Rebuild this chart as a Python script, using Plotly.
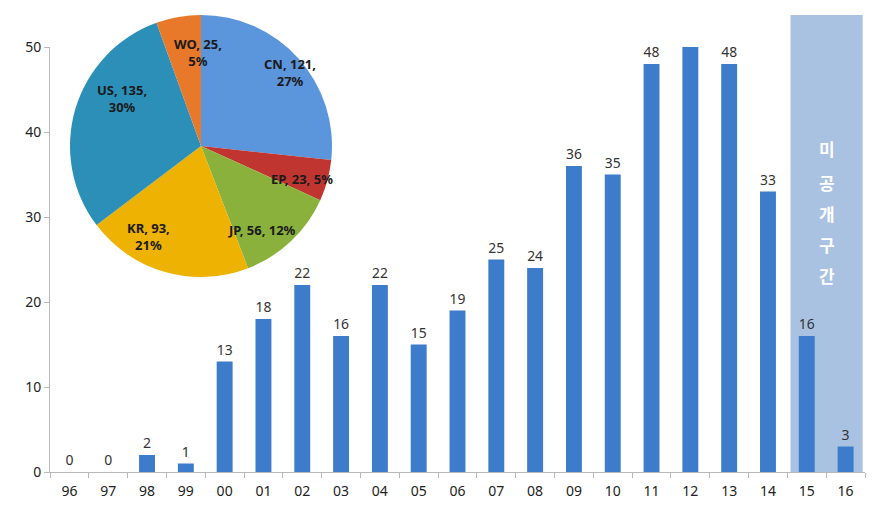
import plotly.graph_objects as go

years = ["96", "97", "98", "99", "00", "01", "02", "03", "04", "05", "06",
         "07", "08", "09", "10", "11", "12", "13", "14", "15", "16"]
counts = [0, 0, 2, 1, 13, 18, 22, 16, 22, 15, 19, 25, 24, 36, 35, 48, 50, 48, 33, 16, 3]
show_label = [True] * 16 + [False] + [True] * 4

pie_labels = ["CN", "EP", "JP", "KR", "US", "WO"]
pie_values = [121, 23, 56, 93, 135, 25]
pie_pct = ["27%", "5%", "12%", "21%", "30%", "5%"]
pie_colors = ["#5B95DB", "#C0352F", "#8AB13C", "#EEB202", "#2B8FB8", "#E8792A"]

shade_text = "미공개구간"

W, H = 881, 510
L, R, T, B = 50, 16, 15, 38
plot_w = W - L - R
plot_h = H - T - B

fig = go.Figure()

bar_text = [str(v) if s else "" for v, s in zip(counts, show_label)]
fig.add_trace(go.Bar(
    x=years, y=counts, width=0.41,
    marker=dict(color="#3D7BCB", line=dict(color="#2B5A98", width=0)),
    text=bar_text, textposition="outside", cliponaxis=False,
    textfont=dict(family="Noto Sans", size=14, color="#333333"),
    showlegend=False, xaxis="x", yaxis="y",
))

px0, px1 = 70, 332
py_top, py_bot = 15, 277
fig.add_trace(go.Pie(
    labels=pie_labels, values=pie_values,
    textinfo="none",
    sort=False, direction="clockwise", rotation=0,
    marker=dict(colors=pie_colors, line=dict(color="#ffffff", width=0)),
    domain=dict(x=[(px0 - L) / plot_w, (px1 - L) / plot_w],
                y=[(H - B - py_bot) / plot_h, (H - B - py_top) / plot_h]),
    showlegend=False, hoverinfo="label+value+percent",
))

# pie labels (pixel centres of each label, styling only)
label_pos = {"CN": (290, 72), "EP": (302, 179), "JP": (262, 230),
             "KR": (148, 236), "US": (122, 98), "WO": (198, 52)}
for lab, val, pct in zip(pie_labels, pie_values, pie_pct):
    if lab in ("EP", "JP"):
        txt = f"<b>{lab}, {val}, {pct}</b>"
    else:
        txt = f"<b>{lab}, {val},<br>{pct}</b>"
    xp, yp = label_pos[lab]
    fig.add_annotation(x=(xp - L) / plot_w, xref="paper",
                       y=(H - B - yp) / plot_h, yref="paper",
                       xanchor="center", yanchor="middle",
                       text=txt, showarrow=False, align="center",
                       font=dict(family="Noto Sans", size=13, color="#1a1a1a"))

# shaded unpublished region
fig.add_shape(type="rect", xref="x", yref="paper",
              x0=18.58, x1=20.44, y0=0, y1=1,
              fillcolor="#A9C2E2", line=dict(width=0), layer="below")

ys = [148, 182, 213, 244, 275]
for ch, yp in zip(shade_text, ys):
    fig.add_annotation(x=19.51, xref="x", y=(H - B - yp) / plot_h, yref="paper",
                       xanchor="center", yanchor="middle", borderpad=0,
                       text=f"<b>{ch}</b>", showarrow=False,
                       font=dict(family="Noto Sans CJK KR", size=17, color="#ffffff"))

y_top_px = 47
fig.update_layout(
    width=W, height=H,
    margin=dict(l=L, r=R, t=T, b=B),
    paper_bgcolor="white", plot_bgcolor="white",
    xaxis=dict(type="category", range=[-0.5, 20.5], showgrid=False, automargin=False,
               showline=True, linecolor="#B8B8B8", linewidth=1,
               ticks="outside", tickson="boundaries", ticklen=5, tickcolor="#B8B8B8",
               ticklabelstandoff=6,
               tickfont=dict(family="Noto Sans", size=14, color="#222222")),
    yaxis=dict(range=[0, 50], domain=[0, (H - B - y_top_px) / plot_h], automargin=False,
               showgrid=False, zeroline=False, tickvals=[0, 10, 20, 30, 40, 50],
               showline=True, linecolor="#B8B8B8", linewidth=1,
               ticks="outside", ticklen=5, tickcolor="#B8B8B8",
               tickfont=dict(family="Noto Sans", size=14, color="#222222")),
    bargap=0.5,
)

fig.write_html("out.html")
